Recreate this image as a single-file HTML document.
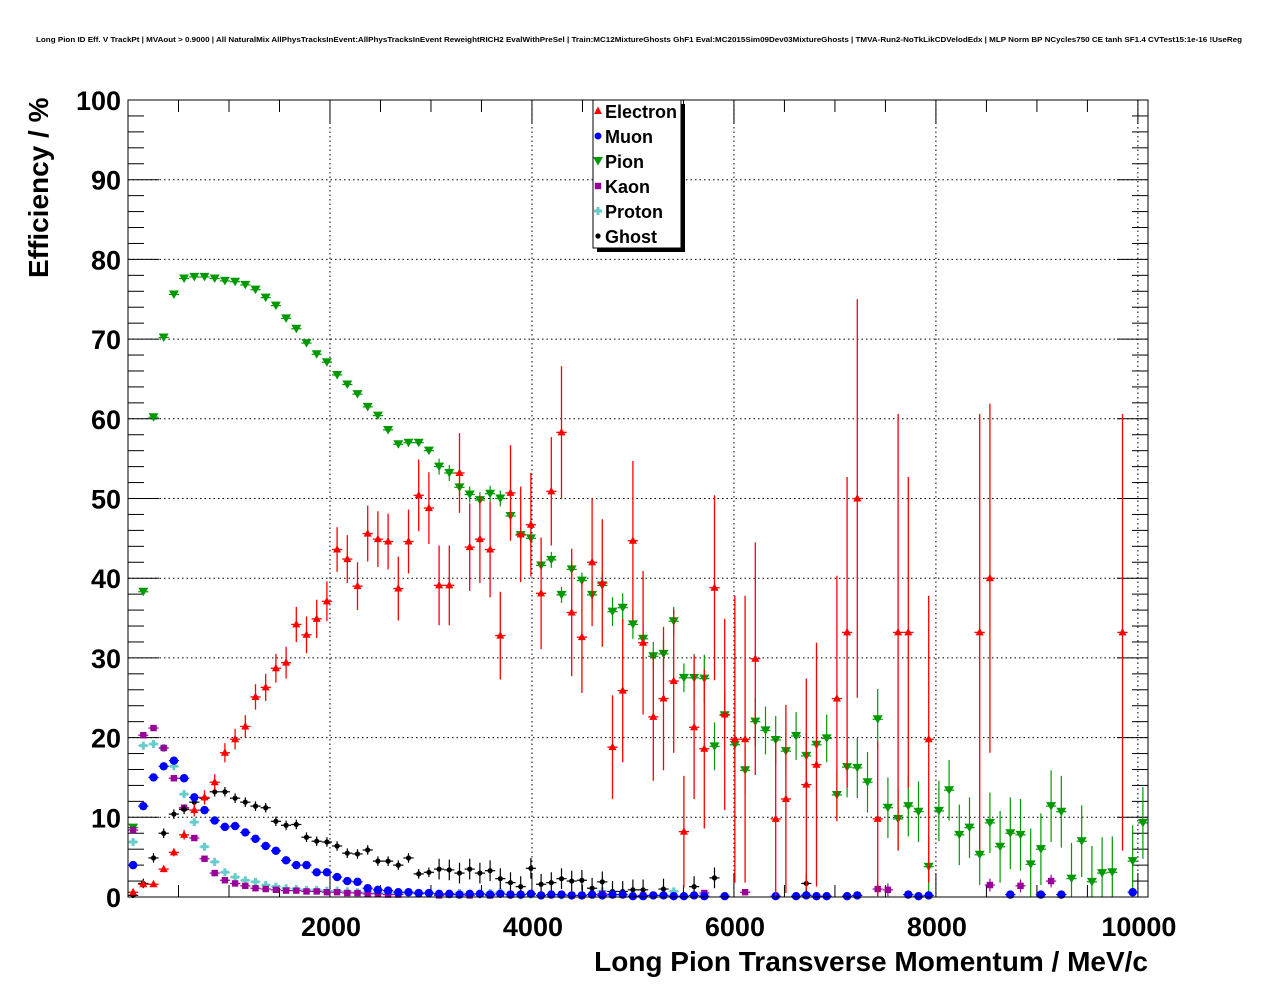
<!DOCTYPE html>
<html><head><meta charset="utf-8"><style>
html,body{margin:0;padding:0;background:#fff;}
svg{display:block;font-family:"Liberation Sans",sans-serif;}
</style></head><body>
<svg id="c" width="1276" height="996" xmlns="http://www.w3.org/2000/svg">
<rect x="0" y="0" width="1276" height="996" fill="#fff"/>
<text x="36" y="42" textLength="1206" lengthAdjust="spacingAndGlyphs" font-size="7.5" font-weight="bold">Long Pion ID Eff. V TrackPt | MVAout &gt; 0.9000 | All NaturalMix AllPhysTracksInEvent:AllPhysTracksInEvent ReweightRICH2 EvalWithPreSel | Train:MC12MixtureGhosts GhF1 Eval:MC2015Sim09Dev03MixtureGhosts | TMVA-Run2-NoTkLikCDVelodEdx | MLP Norm BP NCycles750 CE tanh SF1.4 CVTest15:1e-16 !UseReg</text>
<g id="grid"></g>
<g id="axes"></g>
<g id="marks"></g>
<rect x="128" y="100" width="1020" height="797" fill="none" stroke="#000" stroke-width="1"/>
<text x="1148" y="971" text-anchor="end" font-size="28" font-weight="bold">Long Pion Transverse Momentum / MeV/c</text>
<text transform="translate(48,278) rotate(-90)" text-anchor="start" font-size="28" font-weight="bold">Efficiency / %</text>
<g id="legend">
<rect x="597" y="104" width="88" height="148" fill="#000"/>
<rect x="593" y="100" width="88" height="148" fill="#fff" stroke="#000"/>
</g>
</svg>
<script>
// ---- data (bin index -> value / error); bins of 101 MeV
const electronBins=[0,1,2,3,4,5,6,7,8,9,10,11,12,13,14,15,16,17,18,19,20,21,22,23,24,25,26,27,28,29,30,31,32,33,34,35,36,37,38,39,40,41,42,43,44,45,46,47,48,49,50,51,52,53,54,55,56,57,58,59,60,61,63,64,66,67,69,70,71,73,75,76,78,83,84,97];
const electronVals=[0.6,1.6,1.6,3.5,5.6,7.8,10.9,12.5,14.4,18.1,19.8,21.4,25.1,26.3,28.7,29.4,34.2,32.9,34.9,37.1,43.6,42.4,39.0,45.6,44.9,44.6,38.7,44.6,50.4,48.8,39.1,39.1,53.2,43.9,44.9,43.6,32.8,50.7,45.5,46.7,38.1,50.9,58.3,35.7,32.6,42.0,39.4,18.8,25.9,44.7,31.9,22.6,24.9,27.1,8.2,21.3,18.6,38.8,22.9,19.8,19.8,29.9,9.8,12.3,14.1,16.6,24.9,33.2,50.0,9.8,33.2,33.2,19.8,33.2,40.0,33.2];
const electronErrs=[0.3,0.3,0.3,0.4,0.5,0.6,0.8,0.9,1,1.2,1.3,1.4,1.6,1.7,1.8,2,2.2,2.3,2.4,2.5,2.8,3,3,3.5,3.5,3.5,4,4,4.5,4.5,5,5,5,5.5,5.5,6,5.5,6,6,6.5,7,6.8,8.3,8,7,8,8,6.5,9,10,9,8,9,9,7,9,10,11.6,12,18,18,14.6,10,11.8,13.3,15.3,15.4,19.5,25,9.7,27.4,19.5,18,27.4,21.9,27.4];
const muonBins=[0,1,2,3,4,5,6,7,8,9,10,11,12,13,14,15,16,17,18,19,20,21,22,23,24,25,26,27,28,29,30,31,32,33,34,35,36,37,38,39,40,41,42,43,44,45,46,47,48,49,50,51,52,53,54,55,56,58,63,65,66,67,68,70,71,76,77,78,86,89,91,98];
const muonVals=[4.0,11.4,15.0,16.4,17.1,14.9,12.5,10.9,9.6,8.8,8.9,8.1,7.3,6.4,5.8,4.6,4.0,4.0,3.1,3.1,2.5,2.0,1.9,1.1,0.9,0.8,0.6,0.6,0.5,0.5,0.4,0.4,0.3,0.4,0.4,0.3,0.4,0.3,0.3,0.4,0.2,0.3,0.3,0.2,0.2,0.3,0.2,0.3,0.3,0.1,0.1,0.2,0.2,0.1,0.1,0.2,0.1,0.1,0.1,0.1,0.2,0.1,0.1,0.1,0.2,0.3,0.1,0.2,0.3,0.3,0.3,0.6];
const pionBins=[0,1,2,3,4,5,6,7,8,9,10,11,12,13,14,15,16,17,18,19,20,21,22,23,24,25,26,27,28,29,30,31,32,33,34,35,36,37,38,39,40,41,42,43,44,45,46,47,48,49,50,51,52,53,54,55,56,57,58,59,60,61,62,63,64,65,66,67,68,69,70,71,72,73,74,75,76,77,78,79,80,81,82,83,84,85,86,87,88,89,90,91,92,93,94,95,96,98,99];
const pionVals=[8.7,38.3,60.2,70.2,75.6,77.6,77.8,77.8,77.6,77.3,77.2,76.8,76.2,75.2,74.2,72.6,71.3,69.5,68.1,67.1,65.5,64.3,63.1,61.5,60.4,58.6,56.8,57.0,57.0,56.0,54.0,53.2,51.4,50.5,49.8,50.6,50.0,47.8,45.4,45.0,41.6,42.3,37.9,41.1,39.7,37.9,39.1,35.8,36.3,34.2,32.4,30.2,30.5,34.6,27.5,27.5,27.4,18.9,22.8,19.1,15.9,22.0,20.9,19.7,18.3,20.2,17.7,19.1,19.9,12.8,16.3,16.2,14.4,22.3,11.2,9.8,11.4,10.7,3.8,10.8,13.4,7.8,8.7,5.3,9.3,6.3,8.0,7.8,4.1,6.0,11.4,10.7,2.3,7.0,1.9,3.0,3.1,4.5,9.3];
const kaonBins=[0,1,2,3,4,5,6,7,8,9,10,11,12,13,14,15,16,17,18,19,20,21,22,23,24,25,26,28,30,31,33,35,37,44,46,50,56,60,73,74,84,87,90];
const kaonVals=[8.4,20.3,21.2,18.7,14.9,11.2,7.4,4.8,3.0,2.1,1.7,1.4,1.1,1.0,0.9,0.8,0.8,0.7,0.7,0.6,0.6,0.5,0.5,0.4,0.4,0.3,0.3,0.4,0.2,0.3,0.2,0.2,0.3,0.2,0.4,0.2,0.5,0.6,1.0,0.9,1.5,1.4,2.0];
const protonBins=[0,1,2,3,4,5,6,7,8,9,10,11,12,13,14,15,16,17,18,19,20,21,22,23,24,25,26,27,28,29,30,31,32,33,34,35,36,37,38,39,40,42,45,46,47,53,66];
const protonVals=[6.9,19.0,19.2,18.7,16.4,12.9,9.4,6.3,4.4,3.1,2.5,2.1,1.9,1.5,1.3,1.1,1.0,0.9,0.9,0.8,0.8,0.7,0.6,0.6,0.5,0.5,0.4,0.5,0.4,0.4,0.3,0.3,0.5,0.3,0.3,0.5,0.6,0.3,0.2,0.3,0.2,0.2,0.3,0.7,0.3,0.7,0.3];
const ghostBins=[0,1,2,3,4,5,6,7,8,9,10,11,12,13,14,15,16,17,18,19,20,21,22,23,24,25,26,27,28,29,30,31,32,33,34,35,36,37,38,39,40,41,42,43,44,45,46,47,48,49,50,52,55,57,66];
const ghostVals=[0.2,1.7,4.9,8.0,10.4,11.0,11.9,12.4,13.2,13.2,12.4,11.9,11.4,11.2,9.5,9.0,9.1,7.5,7.0,6.9,6.4,5.5,5.4,5.9,4.5,4.5,4.0,4.9,2.9,3.1,3.5,3.4,3.0,3.5,3.0,3.3,2.3,1.8,1.3,3.6,1.6,1.8,2.3,2.0,2.1,1.1,1.9,0.7,0.7,0.9,0.9,1.0,1.3,2.4,1.7];
const xTickVals=[2000,4000,6000,8000,10000];
const yTickVals=[0,10,20,30,40,50,60,70,80,90,100];
const legendLabels=["Electron","Muon","Pion","Kaon","Proton","Ghost"];

// ---- axes
const X0=128,X1=1148,Y0=897,Y1=100,XMAX=10100,BW=101;
const xs=v=>X0+(v/XMAX)*(X1-X0);
const ys=v=>Y0-(v/100)*(Y0-Y1);
const binX=i=>BW/2+BW*i;
const NS="http://www.w3.org/2000/svg";
function mk(tag,parent,attrs){const e=document.createElementNS(NS,tag);for(const k in attrs)e.setAttribute(k,attrs[k]);parent.appendChild(e);return e;}
const grid=document.getElementById('grid'),axes=document.getElementById('axes'),marks=document.getElementById('marks');

xTickVals.forEach(v=>{
  const l=mk('line',grid,{x1:xs(v),x2:xs(v),y1:Y1,y2:Y0,stroke:'#000','stroke-dasharray':'1.5,3','stroke-width':1});
  
  
  const t=mk('text',axes,{x:xs(v)+1,y:936,'text-anchor':'middle','font-size':27,'font-weight':'bold'});
  t.textContent=v;
  
  
});
for(let v=500;v<XMAX;v+=500){
  const major=v%2000===0;
  const len=major?24:12;
  const l=mk('line',axes,{x1:xs(v),x2:xs(v),y1:Y0,y2:Y0-len,stroke:'#000'});
  
  
  const l2=mk('line',axes,{x1:xs(v),x2:xs(v),y1:Y1,y2:Y1+len,stroke:'#000'});
  
  
}
yTickVals.forEach(v=>{
  if(v>0&&v<100){
    const l=mk('line',grid,{x1:X0,x2:X1,y1:ys(v),y2:ys(v),stroke:'#000','stroke-dasharray':'1.5,3','stroke-width':1});
    
    
  }
  const t=mk('text',axes,{x:121,y:ys(v)+10,'text-anchor':'end','font-size':27,'font-weight':'bold'});
  t.textContent=v;
  
  
});
for(let v=0;v<=100;v+=2){
  const major=v%10===0;
  const len=major?31:16;
  const l=mk('line',axes,{x1:X0,x2:X0+len,y1:ys(v),y2:ys(v),stroke:'#000'});
  
  
  const l2=mk('line',axes,{x1:X1,x2:X1-len,y1:ys(v),y2:ys(v),stroke:'#000'});
  
  
}

// ---- markers
function marker(g,type,cx,cy,col){
  if(type==='tu')return mk('polygon',g,{points:`${cx},${cy-4.5} ${cx-4},${cy+3} ${cx+4},${cy+3}`,fill:col});
  if(type==='td')return mk('polygon',g,{points:`${cx-5},${cy-4} ${cx+5},${cy-4} ${cx},${cy+4.5}`,fill:col});
  if(type==='c')return mk('circle',g,{cx:cx,cy:cy,r:4.2,fill:col});
  if(type==='s')return mk('rect',g,{x:cx-3.2,y:cy-3.2,width:6.4,height:6.4,fill:col});
  if(type==='x'){return mk('path',g,{d:`M${cx-4},${cy-1.5}h2.5v-2.5h3v2.5h2.5v3h-2.5v2.5h-3v-2.5h-2.5z`,fill:col});}
  if(type==='d')return mk('circle',g,{cx:cx,cy:cy,r:2.6,fill:col});
}
function series(name,bins,vals,errs,type,col,defErr){
  const g=mk('g',marks,{});
  
  
  bins.forEach((b,k)=>{
    const v=vals[k];const e=errs?errs[k]:defErr(v,b);
    const cx=xs(binX(b)),cy=ys(v);
    const lw=type==='tu'?1.3:1.2;
    mk('line',g,{x1:xs(binX(b)-BW/2),x2:xs(binX(b)+BW/2),y1:cy,y2:cy,stroke:col,'stroke-width':lw});
    const hi=ys(Math.min(100,v+e)),lo=ys(Math.max(0,v-e));
    mk('line',g,{x1:cx,x2:cx,y1:hi,y2:lo,stroke:col,'stroke-width':lw});
    const m=marker(g,type,cx,cy,col);
    
    
  });
}
series('pion',pionBins,pionVals,null,'td','#009900',(v,b)=>b<30?0.3:b<45?1:b<55?1.8:b<70?3:b<85?3.8:4.5);
series('proton',protonBins,protonVals,null,'x','#66cccc',(v,b)=>0.3);
series('kaon',kaonBins,kaonVals,null,'s','#990099',(v,b)=>b>70?0.8:0.3);
series('ghost',ghostBins,ghostVals,null,'d','#000000',(v,b)=>b<30?0.6:1.3);
series('muon',muonBins,muonVals,null,'c','#0000ff',(v,b)=>0.2);
series('electron',electronBins,electronVals,electronErrs,'tu','#ff0000',null);

// ---- legend
const leg=document.getElementById('legend');
const legTypes=['tu','c','td','s','x','d'];
const legCols=['#ff0000','#0000ff','#009900','#990099','#66cccc','#000000'];
legendLabels.forEach((lab,k)=>{
  const y=111+25*k;
  const m=marker(leg,legTypes[k],598,y,legCols[k]);
  if(legTypes[k]==='c'){m.setAttribute('r',3.5);}
  
  
  const t=mk('text',leg,{x:605,y:y+7,'font-size':18,'font-weight':'bold'});
  t.textContent=lab;
  
  
});
</script>
</body></html>
